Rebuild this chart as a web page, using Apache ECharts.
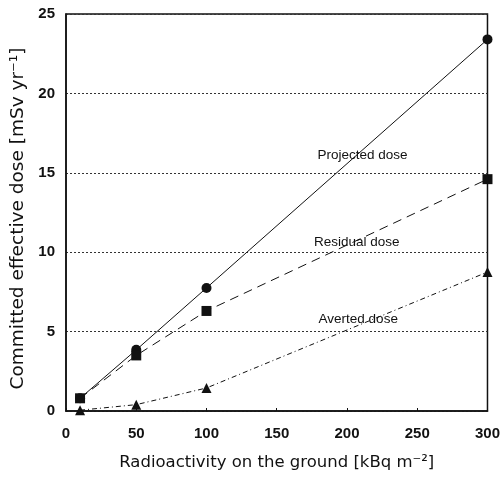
<!DOCTYPE html>
<html>
<head>
<meta charset="utf-8">
<script src="https://cdn.jsdelivr.net/npm/echarts@6/dist/echarts.min.js"></script>
<style>
html, body { margin: 0; padding: 0; background: #fff; }
#chart { width: 503px; height: 480px; }
</style>
</head>
<body>
<div id="chart"></div>
<script>
var activity = [10, 50, 100, 300];
var projected = [0.8, 3.85, 7.75, 23.4];
var residual = [0.8, 3.5, 6.3, 14.6];
var averted = [0.05, 0.4, 1.45, 8.75];
var xTicks = [0, 50, 100, 150, 200, 250, 300];
var yTicks = [0, 5, 10, 15, 20, 25];

function pairs(ys) {
    return activity.map(function (x, i) { return [x, ys[i]]; });
}

function tag(text, x, y) {
    return {
        coord: [x, y],
        symbolSize: 0,
        label: {
            show: true, formatter: text, position: 'inside',
            color: '#111', fontSize: 13.5, fontFamily: 'Liberation Sans'
        }
    };
}

var chart = echarts.init(document.getElementById('chart'));
var font = 'Liberation Sans Narrow, Liberation Sans';

var option = {
    animation: false,
    grid: { left: 66, right: 15, top: 14, bottom: 69, show: true, borderColor: '#111', borderWidth: 1.5 },
    xAxis: {
        type: 'value', min: 0, max: 300, interval: 50,
        name: 'Radioactivity on the ground [kBq m\u207B\u00B2]',
        nameLocation: 'middle', nameGap: 43,
        nameTextStyle: { fontSize: 16.5, fontFamily: 'DejaVu Sans', color: '#111' },
        axisLine: { lineStyle: { color: '#111', width: 1.5 } },
        axisTick: { inside: true, length: 3, lineStyle: { color: '#111' } },
        axisLabel: { fontSize: 15, fontWeight: 'bold', fontFamily: font, color: '#111', margin: 15,
            customValues: xTicks },
        splitLine: { show: false }
    },
    yAxis: {
        type: 'value', min: 0, max: 25, interval: 5,
        name: 'Committed effective dose [mSv yr\u207B\u00B9]',
        nameLocation: 'middle', nameGap: 34,
        nameTextStyle: { fontSize: 18.5, fontFamily: 'DejaVu Sans', color: '#111', padding: [0, 12, 0, 0] },
        axisLine: { lineStyle: { color: '#111', width: 1.5 } },
        axisTick: { show: false },
        axisLabel: { fontSize: 15, fontWeight: 'bold', fontFamily: font, color: '#111', margin: 11,
            customValues: yTicks },
        splitLine: { show: true, lineStyle: { type: [2, 2], color: '#333', width: 1 } }
    },
    series: [
        {
            name: 'Projected dose', type: 'line', data: pairs(projected),
            symbol: 'circle', symbolSize: 10,
            lineStyle: { color: '#111', width: 1 },
            itemStyle: { color: '#111' },
            markPoint: { data: [tag('Projected dose', 211, 16.1)] }
        },
        {
            name: 'Residual dose', type: 'line', data: pairs(residual),
            symbol: 'rect', symbolSize: 10,
            lineStyle: { color: '#111', width: 1, type: [9, 6] },
            itemStyle: { color: '#111' },
            markPoint: { data: [tag('Residual dose', 207, 10.6)] }
        },
        {
            name: 'Averted dose', type: 'line', data: pairs(averted),
            symbol: 'triangle', symbolSize: 10,
            lineStyle: { color: '#111', width: 1, type: [5, 3, 1, 3] },
            itemStyle: { color: '#111' },
            markPoint: { data: [tag('Averted dose', 208, 5.8)] }
        }
    ]
};
chart.setOption(option);
</script>
</body>
</html>
